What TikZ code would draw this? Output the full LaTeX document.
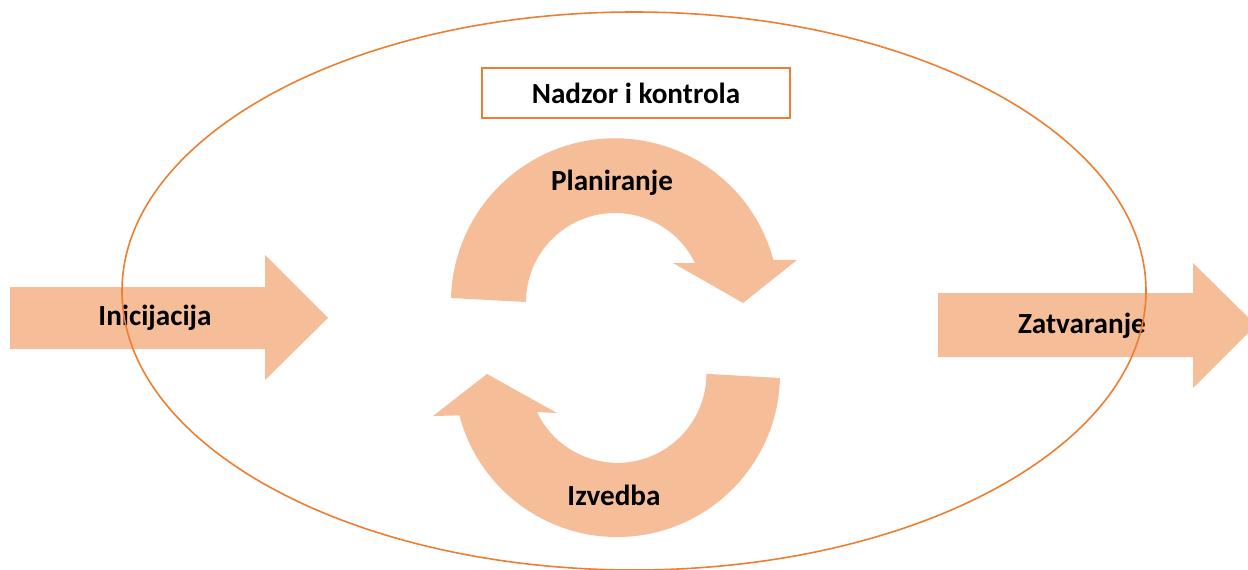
\documentclass[tikz,border=0pt]{standalone}
\usepackage{fontspec}
\setmainfont{Carlito}
\usepackage{tikz}
\definecolor{peach}{HTML}{F5BE98}
\definecolor{accent}{HTML}{ED7D31}

\begin{document}
\begin{tikzpicture}[x=0.02cm, y=0.02cm,
        phase/.style={fill=peach, draw=none},
        lbl/.style={font=\fontsize{16.6}{19}\selectfont\bfseries, inner sep=0pt},
        ctrlbox/.style={draw=accent, line width=1pt, fill=white,
                        minimum width=6.16cm, minimum height=1cm}
                            ]
        \clip (0,0) rectangle (1248,569);
        % straight arrows
        \fill[phase] (10,282) -- (265,282) -- (265,314) -- (328,251)
                     -- (265,189) -- (265,220) -- (10,220) -- cycle;
        \fill[phase] (938,276) -- (1193,276) -- (1193,306) -- (1256,244)
                     -- (1193,181) -- (1193,212) -- (938,212) -- cycle;
        % circular arrows
        \fill[phase] (451,271) arc (178.5:15:164) -- (797,309) -- (743,266)
                     -- (673,306) -- (695,306) arc (26:180:89) -- cycle;
        \fill[phase] (780,191) arc (-1.4:-165.3:163) -- (433,153) -- (487,195)
                     -- (557,156) -- (537,157) arc (-154.6:0:89) -- cycle;
        % labels
        \node[ctrlbox, lbl] (ctrl) at (636,476) {Nadzor i kontrola};
        \node[lbl] (plan) at (612,386) {Planiranje};
        \node[lbl] (exec) at (614,74) {Izvedba};
        \node[lbl] (init) at (155,251) {Inicijacija};
        \node[lbl] (close) at (1082,243) {Zatvaranje};
        % outer ellipse
        \draw[accent, line width=0.9pt] (634,278) ellipse [x radius=512, y radius=279];
    \end{tikzpicture}
\end{document}
